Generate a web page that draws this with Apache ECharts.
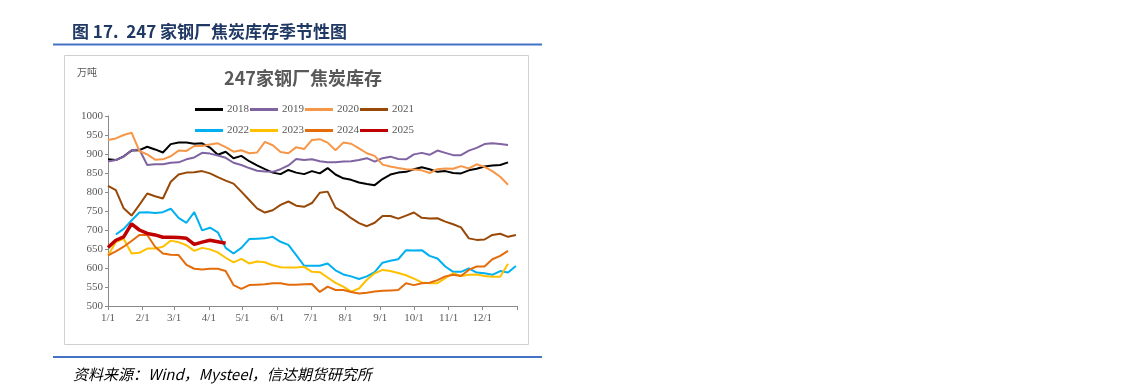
<!DOCTYPE html>
<html>
<head>
<meta charset="utf-8">
<script src="https://cdn.jsdelivr.net/npm/echarts@6/dist/echarts.min.js"></script>
<style>
  html, body { margin: 0; padding: 0; background: #ffffff; }
  #chart { width: 1137px; height: 384px; }
</style>
</head>
<body>
<div id="chart"></div>
<script>
// ---- data (weekly inventory, 10k tonnes) ----
const monthStartDays = [0, 31, 59, 90, 120, 151, 181, 212, 243, 273, 304, 334];
const monthLabels = ['1/1', '2/1', '3/1', '4/1', '5/1', '6/1', '7/1', '8/1', '9/1', '10/1', '11/1', '12/1'];
const yearNames = ['2018', '2019', '2020', '2021', '2022', '2023', '2024', '2025'];
const startDay = { '2018': 0, '2019': 0, '2020': 0, '2021': 0, '2022': 7, '2023': 0, '2024': 0, '2025': 0 };

const v2018 = [886, 884, 894, 909, 910, 919, 912, 904, 926, 930, 930, 927, 928, 917, 898, 906, 889, 895, 881, 870, 860, 851, 847, 858, 851, 847, 855, 849, 863, 846, 836, 832, 825, 821, 818, 834, 846, 851, 853, 860, 865, 860, 853, 855, 850, 849, 857, 861, 867, 870, 871, 878];
const v2019 = [880, 884, 893, 910, 912, 871, 873, 873, 877, 878, 886, 891, 903, 901, 896, 890, 877, 871, 863, 856, 854, 853, 860, 870, 887, 884, 886, 881, 878, 878, 880, 881, 884, 889, 880, 889, 893, 887, 886, 899, 903, 898, 909, 903, 897, 897, 909, 916, 926, 928, 926, 924];
const v2020 = [937, 941, 950, 956, 908, 899, 885, 886, 894, 909, 908, 921, 921, 925, 928, 918, 906, 910, 902, 904, 932, 923, 905, 902, 918, 913, 937, 939, 930, 910, 930, 927, 915, 902, 895, 872, 867, 863, 860, 859, 857, 850, 860, 862, 861, 868, 862, 873, 866, 855, 840, 819];
const v2021 = [816, 805, 757, 738, 766, 796, 789, 783, 827, 846, 851, 852, 855, 849, 839, 830, 822, 801, 779, 757, 746, 752, 766, 775, 764, 761, 771, 798, 801, 759, 747, 731, 718, 710, 719, 737, 737, 730, 738, 746, 732, 730, 731, 722, 715, 707, 678, 674, 675, 687, 690, 682, 687];
const v2022 = [688, 703, 725, 746, 747, 745, 747, 756, 732, 719, 747, 699, 706, 694, 653, 638, 653, 676, 677, 678, 682, 669, 661, 634, 606, 606, 606, 612, 594, 583, 578, 571, 578, 589, 614, 619, 623, 647, 646, 647, 632, 625, 604, 590, 590, 599, 588, 586, 582, 592, 588, 605];
const v2023 = [633, 668, 677, 638, 640, 651, 651, 656, 672, 668, 660, 645, 653, 649, 641, 627, 615, 624, 612, 617, 615, 607, 602, 601, 601, 603, 590, 589, 575, 561, 551, 538, 546, 569, 586, 595, 592, 587, 581, 572, 562, 560, 560, 573, 586, 579, 582, 583, 579, 577, 577, 611];
const v2024 = [633, 644, 656, 671, 687, 687, 656, 638, 635, 634, 608, 598, 596, 598, 598, 592, 555, 545, 555, 556, 557, 560, 560, 556, 556, 557, 558, 537, 551, 542, 542, 537, 533, 535, 538, 540, 541, 542, 560, 555, 560, 561, 568, 578, 582, 579, 595, 604, 604, 623, 632, 645];
const v2025 = [654, 673, 682, 716, 700, 691, 687, 681, 681, 680, 678, 662, 668, 673, 669, 665];

const yTicks = { min: 500, max: 1000, step: 50 };

// ---- styles ----
const seriesValues = { '2018': v2018, '2019': v2019, '2020': v2020, '2021': v2021, '2022': v2022, '2023': v2023, '2024': v2024, '2025': v2025 };
const colors = { '2018': '#000000', '2019': '#8064A2', '2020': '#F79646', '2021': '#984807', '2022': '#00B0F0', '2023': '#FFC000', '2024': '#E46C0A', '2025': '#C00000' };

function weekly(year) {
  return seriesValues[year].map((v, i) => [startDay[year] + 7 * i, v]);
}

const serifFont = '"Liberation Serif", "DejaVu Serif", serif';
const cjkFont = '"Noto Sans CJK SC", sans-serif';
const axisGray = '#898989';
const textGray = '#595959';

const chart = echarts.init(document.getElementById('chart'), null, { renderer: 'canvas' });

const legendCommon = {
  icon: 'rect',
  itemWidth: 28,
  itemHeight: 3,
  itemGap: 1,
  orient: 'horizontal',
  textStyle: { fontFamily: serifFont, fontSize: 11, color: textGray, padding: [0, 0, 0, -1] }
};

const option = {
  backgroundColor: '#ffffff',
  animation: false,
  title: [
    {
      text: '图 17.  247 家钢厂焦炭库存季节性图',
      left: 67, top: 18,
      textStyle: { fontFamily: cjkFont, fontSize: 17, fontWeight: 'bold', color: '#1F3864' }
    },
    {
      text: '247家钢厂焦炭库存',
      left: 298, top: 64, textAlign: 'center',
      textStyle: { fontFamily: cjkFont, fontSize: 18, fontWeight: 'bold', color: textGray }
    },
    {
      text: '万吨',
      left: 72, top: 62,
      textStyle: { fontFamily: cjkFont, fontSize: 10, fontWeight: 'normal', color: textGray }
    },
    {
      text: '资料来源：Wind，Mysteel，信达期货研究所',
      left: 68, top: 362,
      textStyle: { fontFamily: cjkFont, fontSize: 15, fontWeight: 'normal', fontStyle: 'italic', color: '#000000' }
    }
  ],
  graphic: [
    { type: 'line', shape: { x1: 53, y1: 44.5, x2: 542, y2: 44.5 }, style: { stroke: '#4472C4', lineWidth: 2 } },
    { type: 'rect', shape: { x: 64.5, y: 55.5, width: 464, height: 289 }, style: { fill: 'none', stroke: '#D0D0D0', lineWidth: 1 } },
    { type: 'line', shape: { x1: 53, y1: 357, x2: 542, y2: 357 }, style: { stroke: '#4472C4', lineWidth: 2 } }
  ],
  legend: [
    Object.assign({ data: yearNames.slice(0, 4), left: 190, top: 99 }, legendCommon),
    Object.assign({ data: yearNames.slice(4, 8), left: 190, top: 120 }, legendCommon)
  ],
  grid: { left: 108, right: 620, top: 116, bottom: 78 },
  xAxis: {
    type: 'value',
    min: 0,
    max: 365,
    splitLine: { show: false },
    axisLine: { show: true, lineStyle: { color: axisGray, width: 1 } },
    axisTick: { show: true, length: 4, lineStyle: { color: axisGray }, customValues: monthStartDays.concat([365]) },
    axisLabel: {
      customValues: monthStartDays,
      formatter: function (val) {
        const idx = monthStartDays.indexOf(Math.round(val));
        return idx >= 0 ? monthLabels[idx] : '';
      },
      fontFamily: serifFont, fontSize: 11, color: textGray, margin: 7
    }
  },
  yAxis: {
    type: 'value',
    min: yTicks.min,
    max: yTicks.max,
    interval: yTicks.step,
    splitLine: { show: false },
    axisLine: { show: true, lineStyle: { color: axisGray, width: 1 } },
    axisTick: { show: true, length: 3, lineStyle: { color: axisGray } },
    axisLabel: {
      formatter: function (val) { return String(val); },
      fontFamily: serifFont, fontSize: 11, color: textGray, margin: 5
    }
  },
  series: yearNames.map(function (y) {
    return {
      name: y,
      type: 'line',
      data: weekly(y),
      showSymbol: false,
      symbol: 'none',
      smooth: false,
      color: colors[y],
      lineStyle: { color: colors[y], width: y === '2025' ? 3.5 : 2 },
      z: y === '2025' ? 10 : 2
    };
  })
};

chart.setOption(option);
</script>
</body>
</html>
